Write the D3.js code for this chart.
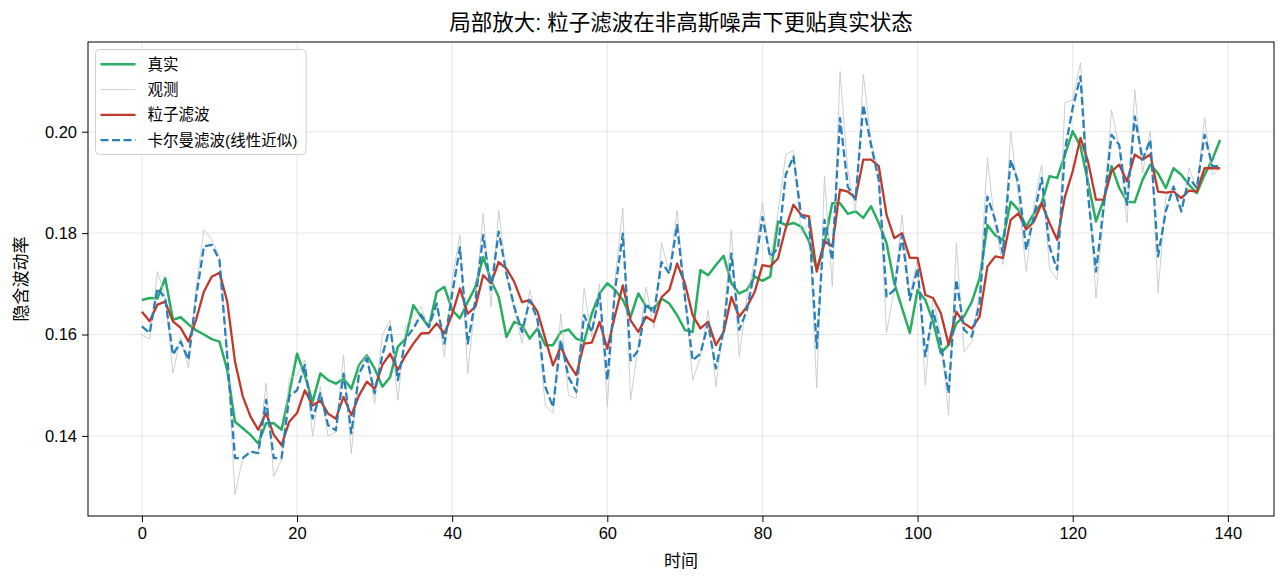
<!DOCTYPE html>
<html>
<head>
<meta charset="utf-8">
<script src="https://cdn.jsdelivr.net/npm/d3@7"></script>
<style>
  html, body { margin: 0; padding: 0; background: #fff; }
  svg { display: block; font-family: "Liberation Sans", "Noto Sans CJK SC", sans-serif; }
</style>
</head>
<body>
<svg width="1286" height="585"></svg>
<script>
(function (d3) {
  'use strict';

  // 数据
  const truth = [
    0.1668, 0.1672, 0.1671, 0.1711, 0.1629, 0.1634, 0.1620, 0.1608, 0.1600, 0.1591,
    0.1586, 0.1530, 0.1428, 0.1415, 0.1402, 0.1385, 0.1425, 0.1425, 0.1412, 0.1484,
    0.1562, 0.1520, 0.1467, 0.1523, 0.1510, 0.1503, 0.1513, 0.1493, 0.1540, 0.1559,
    0.1533, 0.1497, 0.1516, 0.1576, 0.1592, 0.1658, 0.1635, 0.1615, 0.1684, 0.1694,
    0.1648, 0.1632, 0.1664, 0.1694, 0.1753, 0.1707, 0.1674, 0.1595, 0.1625, 0.1618,
    0.1592, 0.1612, 0.1579, 0.1579, 0.1605, 0.1610, 0.1592, 0.1586, 0.1641, 0.1681,
    0.1701, 0.1688, 0.1668, 0.1635, 0.1681, 0.1655, 0.1651, 0.1671, 0.1661, 0.1638,
    0.1609, 0.1605, 0.1727, 0.1717, 0.1737, 0.1755, 0.1701, 0.1681, 0.1688, 0.1714,
    0.1706, 0.1714, 0.1823, 0.1816, 0.1820, 0.1813, 0.1784, 0.1728, 0.1780, 0.1859,
    0.1859, 0.1838, 0.1843, 0.1830, 0.1853, 0.1820, 0.1780, 0.1701, 0.1652, 0.1603,
    0.1688, 0.1668, 0.1626, 0.1563, 0.1580, 0.1622, 0.1636, 0.1665, 0.1711, 0.1816,
    0.1796, 0.1786, 0.1862, 0.1846, 0.1813, 0.1839, 0.1859, 0.1912, 0.1909, 0.1955,
    0.2001, 0.1971, 0.1899, 0.1823, 0.1866, 0.1932, 0.1889, 0.1862, 0.1861, 0.1905,
    0.1935, 0.1918, 0.1889, 0.1928, 0.1915, 0.1895, 0.1879, 0.1915, 0.1945, 0.1984
  ];

  const observed = [
    0.1599, 0.1591, 0.1724, 0.1675, 0.1524, 0.1593, 0.1534, 0.1695, 0.1807, 0.1787,
    0.1754, 0.1560, 0.1284, 0.1356, 0.1369, 0.1366, 0.1504, 0.1320, 0.1353, 0.1514,
    0.1520, 0.1550, 0.1400, 0.1497, 0.1400, 0.1408, 0.1559, 0.1365, 0.1536, 0.1559,
    0.1464, 0.1599, 0.1628, 0.1470, 0.1618, 0.1635, 0.1655, 0.1612, 0.1665, 0.1556,
    0.1710, 0.1796, 0.1523, 0.1670, 0.1839, 0.1655, 0.1845, 0.1714, 0.1648, 0.1582,
    0.1688, 0.1622, 0.1460, 0.1444, 0.1641, 0.1480, 0.1474, 0.1691, 0.1595, 0.1700,
    0.1457, 0.1710, 0.1849, 0.1470, 0.1580, 0.1694, 0.1612, 0.1781, 0.1720, 0.1845,
    0.1680, 0.1510, 0.1555, 0.1648, 0.1497, 0.1622, 0.1806, 0.1556, 0.1674, 0.1747,
    0.1862, 0.1747, 0.1840, 0.1955, 0.1963, 0.1800, 0.1820, 0.1494, 0.1912, 0.1695,
    0.2119, 0.1925, 0.1843, 0.2113, 0.1984, 0.1912, 0.1603, 0.1690, 0.1836, 0.1675,
    0.1750, 0.1500, 0.1675, 0.1596, 0.1441, 0.1780, 0.1566, 0.1586, 0.1688, 0.1948,
    0.1813, 0.1738, 0.2000, 0.1872, 0.1724, 0.1853, 0.1935, 0.1731, 0.1708, 0.2057,
    0.2063, 0.2136, 0.1900, 0.1672, 0.1840, 0.2043, 0.1968, 0.1820, 0.2083, 0.1918,
    0.2001, 0.1682, 0.1872, 0.1892, 0.1840, 0.1928, 0.1886, 0.2027, 0.1915, 0.1928
  ];

  const particle = [
    0.1645, 0.1626, 0.1659, 0.1665, 0.1626, 0.1613, 0.1586, 0.1630, 0.1685, 0.1714,
    0.1722, 0.1665, 0.1547, 0.1478, 0.1438, 0.1412, 0.1445, 0.1402, 0.1382, 0.1428,
    0.1445, 0.1490, 0.1460, 0.1470, 0.1444, 0.1434, 0.1477, 0.1441, 0.1480, 0.1507,
    0.1493, 0.1540, 0.1562, 0.1530, 0.1559, 0.1582, 0.1602, 0.1603, 0.1622, 0.1602,
    0.1640, 0.1691, 0.1641, 0.1655, 0.1717, 0.1701, 0.1743, 0.1730, 0.1704, 0.1664,
    0.1668, 0.1645, 0.1592, 0.1539, 0.1576, 0.1543, 0.1520, 0.1582, 0.1584, 0.1625,
    0.1572, 0.1638, 0.1697, 0.1628, 0.1605, 0.1635, 0.1625, 0.1674, 0.1688, 0.1740,
    0.1701, 0.1638, 0.1612, 0.1625, 0.1579, 0.1605, 0.1674, 0.1635, 0.1655, 0.1684,
    0.1737, 0.1734, 0.1750, 0.1810, 0.1856, 0.1836, 0.1833, 0.1724, 0.1784, 0.1774,
    0.1886, 0.1882, 0.1869, 0.1945, 0.1945, 0.1932, 0.1836, 0.1790, 0.1800, 0.1751,
    0.1751, 0.1678, 0.1672, 0.1642, 0.1580, 0.1645, 0.1622, 0.1612, 0.1636, 0.1734,
    0.1754, 0.1751, 0.1826, 0.1839, 0.1807, 0.1823, 0.1859, 0.1820, 0.1787, 0.1872,
    0.1922, 0.1988, 0.1940, 0.1866, 0.1866, 0.1922, 0.1935, 0.1902, 0.1955, 0.1945,
    0.1955, 0.1882, 0.1880, 0.1882, 0.1869, 0.1884, 0.1882, 0.1928, 0.1928, 0.1928
  ];

  const kalman = [
    0.1616, 0.1603, 0.1691, 0.1672, 0.1560, 0.1586, 0.1550, 0.1675, 0.1774, 0.1777,
    0.1747, 0.1557, 0.1356, 0.1356, 0.1369, 0.1366, 0.1471, 0.1356, 0.1356, 0.1478,
    0.1490, 0.1540, 0.1434, 0.1484, 0.1421, 0.1411, 0.1523, 0.1405, 0.1523, 0.1553,
    0.1484, 0.1559, 0.1615, 0.1510, 0.1592, 0.1612, 0.1639, 0.1615, 0.1661, 0.1582,
    0.1680, 0.1772, 0.1582, 0.1668, 0.1796, 0.1688, 0.1803, 0.1720, 0.1655, 0.1605,
    0.1668, 0.1630, 0.1497, 0.1457, 0.1589, 0.1516, 0.1487, 0.1638, 0.1605, 0.1681,
    0.1510, 0.1688, 0.1799, 0.1549, 0.1569, 0.1661, 0.1641, 0.1743, 0.1720, 0.1816,
    0.1674, 0.1549, 0.1562, 0.1622, 0.1533, 0.1609, 0.1760, 0.1609, 0.1648, 0.1727,
    0.1832, 0.1753, 0.1770, 0.1915, 0.1951, 0.1833, 0.1826, 0.1573, 0.1826, 0.1747,
    0.2027, 0.1892, 0.1866, 0.2053, 0.1974, 0.1905, 0.1675, 0.1688, 0.1796, 0.1668,
    0.1731, 0.1557, 0.1647, 0.1583, 0.1484, 0.1708, 0.1609, 0.1596, 0.1662, 0.1872,
    0.1826, 0.1760, 0.1945, 0.1899, 0.1767, 0.1833, 0.1909, 0.1774, 0.1728, 0.1964,
    0.2047, 0.2109, 0.1872, 0.1724, 0.1853, 0.1994, 0.1974, 0.1856, 0.2030, 0.1945,
    0.1984, 0.1754, 0.1843, 0.1892, 0.1843, 0.1909, 0.1889, 0.1994, 0.1932, 0.1932
  ];

  const xTicks = [0, 20, 40, 60, 80, 100, 120, 140];
  const yTicks = [0.14, 0.16, 0.18, 0.20];

  const series = [
    { name: '真实', values: truth, color: '#27ae60', width: 2.5, dash: null, opacity: 1 },
    { name: '观测', values: observed, color: '#bfc4c8', width: 1, dash: null, opacity: 0.8 },
    { name: '粒子滤波', values: particle, color: '#c0392b', width: 2.3, dash: null, opacity: 1 },
    { name: '卡尔曼滤波(线性近似)', values: kalman, color: '#2980b9', width: 2.3, dash: '8,3.5', opacity: 1 }
  ];

  const svg = d3.select('svg');
  const width = 1286;
  const height = 585;

  const margin = { top: 42, right: 12, bottom: 69, left: 88 };
  const innerWidth = width - margin.left - margin.right;
  const innerHeight = height - margin.top - margin.bottom;

  const x = d3.scaleLinear().domain([-6.95, 145.95]).range([0, innerWidth]);
  const y = d3.scaleLinear().domain([0.1242, 0.2177]).range([innerHeight, 0]);

  const g = svg.append('g')
      .attr('transform', `translate(${margin.left},${margin.top})`);

  g.append('clipPath').attr('id', 'clip')
    .append('rect').attr('width', innerWidth).attr('height', innerHeight);

  // 网格
  g.append('g').selectAll('line').data(xTicks)
    .enter().append('line')
      .attr('x1', d => x(d)).attr('x2', d => x(d))
      .attr('y1', 0).attr('y2', innerHeight)
      .attr('stroke', '#b0b0b0').attr('stroke-opacity', 0.3).attr('stroke-width', 1);

  g.append('g').selectAll('line').data(yTicks)
    .enter().append('line')
      .attr('x1', 0).attr('x2', innerWidth)
      .attr('y1', d => y(d)).attr('y2', d => y(d))
      .attr('stroke', '#b0b0b0').attr('stroke-opacity', 0.3).attr('stroke-width', 1);

  // 曲线
  const line = d3.line()
    .x((d, i) => x(i))
    .y(d => y(d));

  const lines = g.append('g').attr('clip-path', 'url(#clip)');
  series.forEach(s => {
    lines.append('path')
      .datum(s.values)
      .attr('d', line)
      .attr('fill', 'none')
      .attr('stroke', s.color)
      .attr('stroke-width', s.width)
      .attr('stroke-opacity', s.opacity)
      .attr('stroke-dasharray', s.dash)
      .attr('stroke-linejoin', 'round');
  });

  // 坐标轴
  const xAxis = g.append('g')
      .attr('transform', `translate(0,${innerHeight})`)
      .call(d3.axisBottom(x).tickValues(xTicks).tickSize(6).tickPadding(5).tickFormat(d3.format('d')));
  const yAxis = g.append('g')
      .call(d3.axisLeft(y).tickValues(yTicks).tickSize(6).tickPadding(5).tickFormat(d3.format('.2f')));

  [xAxis, yAxis].forEach(a => {
    a.select('.domain').remove();
    a.selectAll('text').attr('font-size', 16.5).attr('fill', '#000')
      .attr('font-family', '"Liberation Sans", "Noto Sans CJK SC", sans-serif');
    a.selectAll('line').attr('stroke', '#000');
  });

  g.append('rect')
      .attr('width', innerWidth).attr('height', innerHeight)
      .attr('fill', 'none').attr('stroke', '#000').attr('stroke-width', 1);

  // 标题与轴标签
  svg.append('text')
      .attr('x', margin.left + innerWidth / 2).attr('y', 30)
      .attr('text-anchor', 'middle').attr('font-size', 21.5)
      .text('局部放大: 粒子滤波在非高斯噪声下更贴真实状态');

  svg.append('text')
      .attr('x', margin.left + innerWidth / 2).attr('y', 567)
      .attr('text-anchor', 'middle').attr('font-size', 17)
      .text('时间');

  svg.append('text')
      .attr('transform', `translate(27,${margin.top + innerHeight / 2}) rotate(-90)`)
      .attr('text-anchor', 'middle').attr('font-size', 17)
      .text('隐含波动率');

  // 图例
  const legend = svg.append('g').attr('transform', 'translate(95.5,49.5)');
  legend.append('rect')
      .attr('width', 210.5).attr('height', 105)
      .attr('rx', 4)
      .attr('fill', '#fff').attr('fill-opacity', 0.8)
      .attr('stroke', '#d0d0d0').attr('stroke-width', 1);

  const item = legend.selectAll('g.item').data(series)
    .enter().append('g')
      .attr('class', 'item')
      .attr('transform', (d, i) => `translate(0,${14.8 + i * 25.3})`);

  item.append('line')
      .attr('x1', 5).attr('x2', 40)
      .attr('stroke', d => d.color)
      .attr('stroke-width', d => d.width)
      .attr('stroke-opacity', d => d.opacity)
      .attr('stroke-dasharray', d => d.dash);

  item.append('text')
      .attr('x', 52).attr('dy', '0.36em')
      .attr('font-size', 15.5)
      .text(d => d.name);

}(d3));
</script>
</body>
</html>
